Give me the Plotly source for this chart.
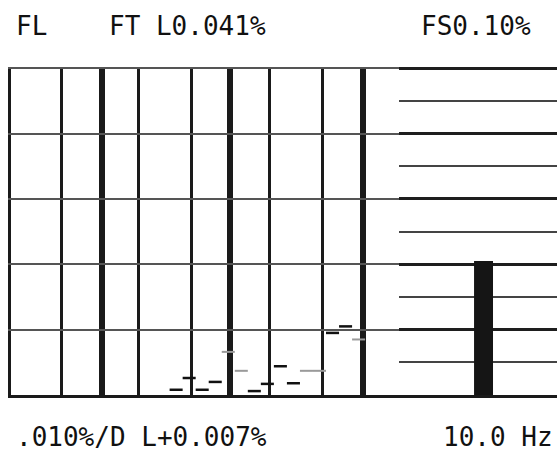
import plotly.graph_objects as go

# left panel: flutter recorder trace, one dash per time step (step starts)
trace_t = [12.4, 13.4, 14.4, 15.4, 16.4, 17.4, 18.4, 19.4,
           20.4, 21.4, 22.4, 23.4, 24.4, 25.4, 26.4]
# dark dashes (%), None where the dash is only a faint ghost
trace_dark = [0.0008, 0.0026, 0.0008, 0.0020, None, None, 0.0006, 0.0017,
              0.0044, 0.0018, None, None, 0.0095, 0.0105, None]
trace_faint = [None, None, None, None, 0.0066, 0.0037, None, None,
               None, None, 0.0037, 0.0037, None, None, 0.0085]
step_len = 1.0

# vertical rulings of the recorder chart (time units)
thin_lines = [0.1, 4.1, 10.05, 14.05, 20.1, 24.1, 29.95]
thick_lines = [7.2, 17.05, 27.2]

# right panel: bar meter, full scale 0.10 %
meter_cat = ["10.0 Hz"]
meter_val = [0.041]

top_left = "FL"
top_mid = "FT L0.041%"
top_right = "FS0.10%"
bot_left = ".010%/D L+0.007%"
bot_right = "10.0 Hz"


def dashes(starts, vals):
    xs, ys = [], []
    for t, v in zip(starts, vals):
        if v is None:
            continue
        xs += [t, t + step_len, None]
        ys += [v, v, None]
    return xs, ys


fig = go.Figure()

fx, fy = dashes(trace_t, trace_faint)
fig.add_trace(go.Scatter(x=fx, y=fy, mode="lines",
                         line=dict(color="#9a9a9a", width=2),
                         xaxis="x", yaxis="y", showlegend=False))
dx, dy = dashes(trace_t, trace_dark)
fig.add_trace(go.Scatter(x=dx, y=dy, mode="lines",
                         line=dict(color="#111111", width=2.5),
                         xaxis="x", yaxis="y", showlegend=False))

fig.add_trace(go.Bar(x=meter_cat, y=meter_val, width=0.12,
                     marker=dict(color="#151515", line=dict(width=0)),
                     xaxis="x2", yaxis="y2", showlegend=False))

mono = "DejaVu Sans Mono"
ann = [
    (top_left, 0.011, 1.125),
    (top_mid, 0.180, 1.125),
    (top_right, 0.749, 1.125),
    (bot_left, 0.011, -0.128),
    (bot_right, 0.789, -0.128),
]
annotations = [dict(text=t, x=x, y=y, xref="paper", yref="paper",
                    xanchor="left", yanchor="middle", showarrow=False,
                    font=dict(family=mono, size=26, color="#111111"))
               for t, x, y in ann]

split = 391 / 549

fig.update_layout(
    width=557, height=460,
    margin=dict(l=8, r=0, t=67, b=65),
    paper_bgcolor="white", plot_bgcolor="white",
    annotations=annotations,
    xaxis=dict(domain=[0, split], range=[0, 30], tickmode="array",
               tickvals=thick_lines, showticklabels=False, ticks="",
               showgrid=True, gridcolor="#1a1a1a", gridwidth=6,
               minor=dict(tickmode="array", tickvals=thin_lines,
                          showgrid=True, gridcolor="#1a1a1a", gridwidth=3),
               showline=True, linecolor="#1a1a1a", linewidth=3,
               zeroline=False),
    yaxis=dict(domain=[0, 1], range=[0, 0.0502], dtick=0.01,
               showticklabels=False, ticks="", showgrid=True,
               gridcolor="#555555", gridwidth=2, zeroline=False),
    xaxis2=dict(domain=[split, 1], range=[-0.535, 0.465],
                showticklabels=False, ticks="", showgrid=False,
                showline=True, linecolor="#1a1a1a", linewidth=3,
                zeroline=False),
    yaxis2=dict(domain=[0, 1], range=[0, 0.1004], anchor="x2",
                dtick=0.02, showticklabels=False, ticks="",
                showgrid=True, gridcolor="#1e1e1e", gridwidth=3,
                minor=dict(dtick=0.01, showgrid=True,
                           gridcolor="#444444", gridwidth=2),
                zeroline=False),
)

# drop the default 8px page margin so the figure fills the window exactly
fig.write_html("out.html", config={"displayModeBar": False},
               post_script="document.body.style.margin='0';"
                           "document.body.style.overflow='hidden';")
